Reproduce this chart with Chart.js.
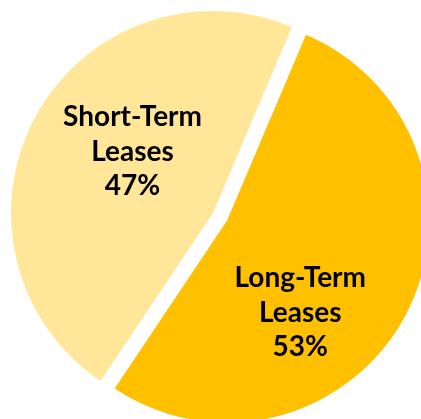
<!DOCTYPE html>
<html>
<head>
<meta charset="utf-8">
<script src="https://cdn.jsdelivr.net/npm/chart.js@4"></script>
<style>
  html, body { margin: 0; padding: 0; background: #fff; }
  canvas { display: block; }
</style>
</head>
<body>
<canvas id="leaseChart" width="421" height="419"></canvas>
<script>
// data
var categories = ['Long-Term Leases', 'Short-Term Leases'];
var labelLines = [['Long-Term', 'Leases'], ['Short-Term', 'Leases']];
var shares = [53, 47];

var colors = ['#FFC000', '#FFE699'];

// exploded distance per slice (px) - done by hand because Chart.js offset
// also grows the radius of slices wider than 180 deg
var explode = [16, 0];

// where each label sits: fraction along the arc and fraction of radius
var labelAngleFrac = [0.607, 0.552];
var labelRadiusFrac = [0.656, 0.50];

var explodeSlices = {
    id: 'explodeSlices',
    beforeDatasetsDraw: function(chart) {
        chart.getDatasetMeta(0).data.forEach(function(arc, i) {
            if (arc._exploded || !explode[i]) return;
            var orig = arc.draw;
            arc.draw = function(ctx, area) {
                var h = (this.startAngle + this.endAngle) / 2;
                ctx.save();
                ctx.translate(Math.cos(h) * explode[i], Math.sin(h) * explode[i]);
                orig.call(this, ctx, area);
                ctx.restore();
            };
            arc._exploded = true;
        });
    }
};

var sliceLabels = {
    id: 'sliceLabels',
    afterDatasetsDraw: function(chart) {
        var ctx = chart.ctx;
        var meta = chart.getDatasetMeta(0);
        ctx.save();
        ctx.fillStyle = '#000';
        ctx.font = 'bold 28px Lato';
        ctx.textAlign = 'center';
        ctx.textBaseline = 'middle';
        meta.data.forEach(function(arc, i) {
            var p = arc.getProps(['x', 'y', 'startAngle', 'endAngle', 'outerRadius'], true);
            var a = p.startAngle + (p.endAngle - p.startAngle) * labelAngleFrac[i];
            var r = p.outerRadius * labelRadiusFrac[i];
            var cx = p.x + Math.cos(a) * r;
            var cy = p.y + Math.sin(a) * r;
            var lines = labelLines[i].concat([shares[i] + '%']);
            var step = 34.5;
            lines.forEach(function(t, k) {
                ctx.fillText(t, cx, cy + (k - 1) * step);
            });
        });
        ctx.restore();
    }
};

var chart = new Chart(document.getElementById('leaseChart').getContext('2d'), {
    type: 'pie',
    data: {
        labels: categories,
        datasets: [{
            data: shares,
            backgroundColor: colors,
            borderWidth: 0,
            clip: false
        }]
    },
    options: {
        responsive: false,
        animation: false,
        rotation: 23,
        radius: 202,
        layout: { padding: { left: 5, top: 7, right: 0, bottom: 0 } },
        plugins: {
            legend: { display: false },
            tooltip: { enabled: false }
        }
    },
    plugins: [explodeSlices, sliceLabels]
});
</script>
</body>
</html>
